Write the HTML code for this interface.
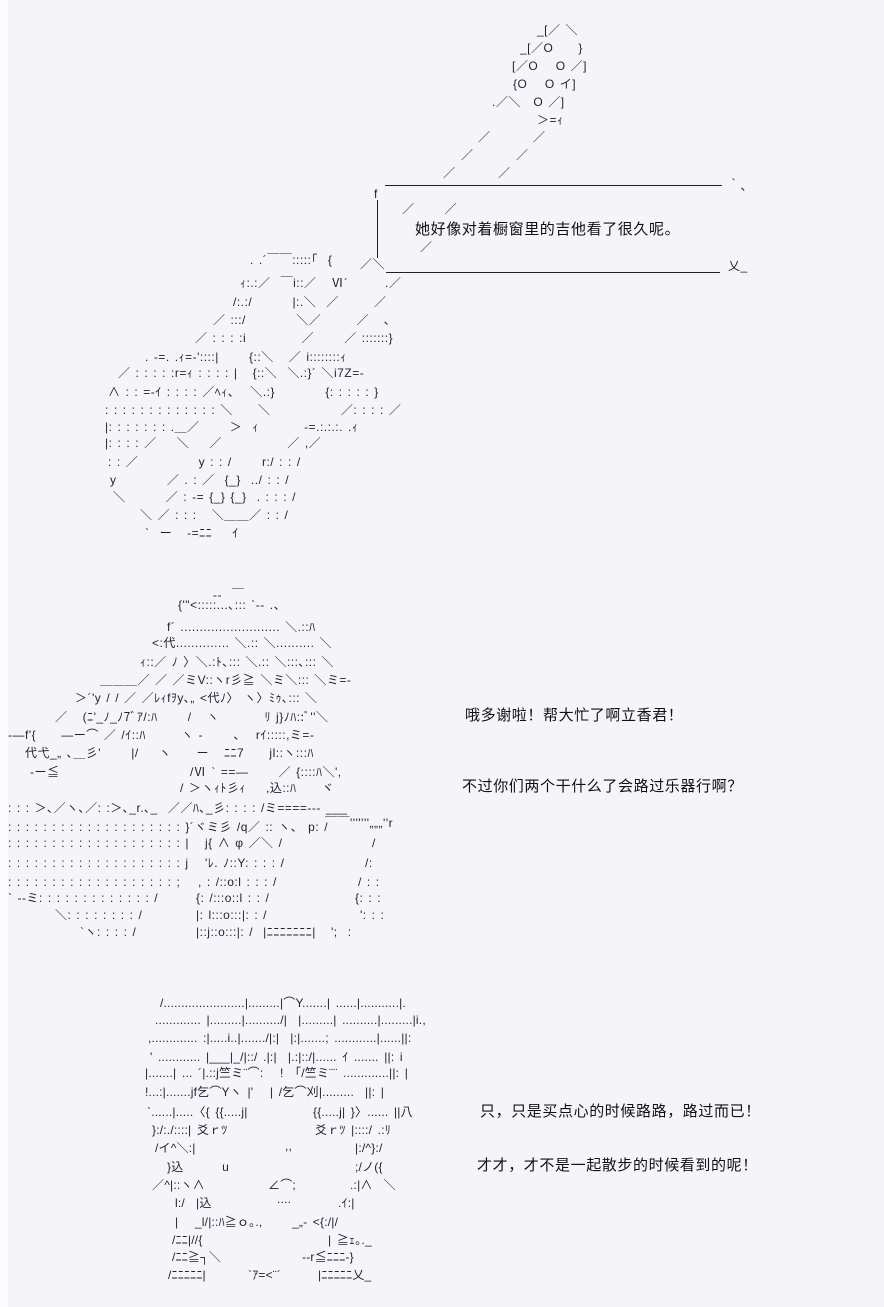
<!DOCTYPE html>
<html><head><meta charset="utf-8">
<style>
html,body{margin:0;padding:0}
body{width:884px;height:1307px;background:#f5f5f9;position:relative;overflow:hidden;color:#241c34}
.s{position:absolute;left:0;top:0;width:8px;height:1307px;background:#fbfbfc}
.a{position:absolute;white-space:pre;font:12px/18px "Liberation Sans","Noto Sans CJK JP",sans-serif;letter-spacing:0.5px;word-spacing:1.2px}
.c3 .a{letter-spacing:0.2px;word-spacing:2px}
.t{position:absolute;white-space:pre;font:15px/18px "Liberation Sans","Noto Sans CJK SC",sans-serif;letter-spacing:0.6px;color:#111}
.h{position:absolute;height:1px;background:#241c34}
.v{position:absolute;width:1px;background:#241c34}
</style></head><body>
<div class="s"></div>

<!-- guitar head -->
<div class="a" style="left:537px;top:21px">_[／ ＼</div>
<div class="a" style="left:520px;top:39px">_[／O　　}</div>
<div class="a" style="left:512px;top:57px">[／O　 O ／]</div>
<div class="a" style="left:513px;top:75px">{O　 O イ]</div>
<div class="a" style="left:492px;top:93px">.／＼　O ／]</div>
<div class="a" style="left:537px;top:111px">＞=ｨ</div>
<div class="a" style="left:478px;top:128px">／　　　 ／</div>
<div class="a" style="left:461px;top:146px">／　　　 ／</div>
<div class="a" style="left:443px;top:164px">／　　　 ／</div>

<!-- speech box -->
<div class="a" style="left:374px;top:178px">,</div>
<div class="h" style="left:385px;top:185px;width:337px"></div>
<div class="a" style="left:728px;top:177px">｀、</div>
<div class="a" style="left:374px;top:185px">f</div>
<div class="v" style="left:377px;top:200px;height:58px"></div>
<div class="a" style="left:402px;top:200px">／　　 ／</div>
<div class="t" style="left:415px;top:221px">她好像对着橱窗里的吉他看了很久呢。</div>
<div class="a" style="left:420px;top:238px">／</div>
<div class="a" style="left:360px;top:255px">／＼</div>
<div class="h" style="left:386px;top:272px;width:334px"></div>
<div class="a" style="left:728px;top:257px">乂_</div>

<!-- guitar body -->
<div class="a" style="left:250px;top:251px">. .´￣￣:::::｢  {</div>
<div class="a" style="left:240px;top:274px">ｨ:.:／  ￣i::／   Ⅵ´</div>
<div class="a" style="left:385px;top:274px">.／</div>
<div class="a" style="left:233px;top:293px">/:.:/        |:.＼  ／       ／</div>
<div class="a" style="left:213px;top:311px">／ :::/          ＼／       ／   ､</div>
<div class="a" style="left:195px;top:329px">／ : : : :i           ／      ／ :::::::}</div>
<div class="a" style="left:145px;top:348px">. -=. .ｨ=-'::::|      {::＼   ／ i::::::::ｨ</div>
<div class="a" style="left:118px;top:364px">／ : : : : :r=ｨ : : : : |   {::＼  ＼.:}´ ＼i7Z=-</div>
<div class="a" style="left:108px;top:383px">∧ : : =-ｲ : : : : ／ﾍｨ、  ＼.:}          {: : : : : }</div>
<div class="a" style="left:105px;top:401px">: : : : : : : : : : : : : ＼     ＼              ／: : : : ／</div>
<div class="a" style="left:105px;top:418px">|: : : : : : : .＿／      ＞  ｨ         -=.:.:.:. .ｨ</div>
<div class="a" style="left:105px;top:434px">|: : : : ／    ＼    ／             ／ ,／</div>
<div class="a" style="left:108px;top:453px">: : ／            y : : /      r:/ : : /</div>
<div class="a" style="left:110px;top:471px">y          ／ . : ／  {_}  ../ : : /</div>
<div class="a" style="left:113px;top:488px">＼        ／ : -= {_} {_}  . : : : /</div>
<div class="a" style="left:140px;top:506px">＼ ／ : : :   ＼＿＿／ : : /</div>
<div class="a" style="left:145px;top:524px">`  ー   -=ﾆﾆ    ｲ</div>

<!-- character 2 -->
<div class="a" style="left:213px;top:586px">‐‐  ￣</div>
<div class="a" style="left:178px;top:596px">{'"<:::::...､::: `‐- .、</div>
<div class="a" style="left:167px;top:618px">f´ .......................... ＼.::ﾊ</div>
<div class="a" style="left:152px;top:634px">&lt;:代.............. ＼.:: ＼.......... ＼</div>
<div class="a" style="left:140px;top:653px">ｨ::／ ﾉ 〉＼.:ﾄ､::: ＼.:: ＼:::､::: ＼</div>
<div class="a" style="left:100px;top:671px">＿＿＿／ ／ ／ミV::ヽr彡≧ ＼ミ＼::: ＼ミ=‐</div>
<div class="a" style="left:75px;top:689px">＞´'y / / ／ ／ﾚｨfｦy､„ &lt;代ﾉ〉 ヽ〉ﾐｩ､::: ＼</div>
<div class="a" style="left:55px;top:708px">／   (ﾆ'_ﾉ_ﾉ7ﾞｱ/:ﾊ      /   ヽ         ﾘ j}ﾉﾊ::ﾞ''＼</div>
<div class="a" style="left:8px;top:726px">‐―f'{     ―ー⌒ ／ /ｲ::ﾊ       ヽ ‐      、  rｲ:::::,ミ=‐</div>
<div class="a" style="left:25px;top:744px">代弋_„ ､＿彡'      |/    ヽ     ー   ﾆﾆ7     jl::ヽ:::ﾊ</div>
<div class="a" style="left:30px;top:763px">‐ー≦</div>
<div class="a" style="left:190px;top:763px">/Ⅵ ` ==―      ／ {::::ﾊ＼',</div>
<div class="a" style="left:180px;top:779px">/ ＞ヽｨﾄ彡ｨ    ,込::ﾊ     ヾ</div>
<div class="a" style="left:8px;top:799px">: : : ＞､／ヽ､／: :＞､_r.､_  ／／ﾊ､_彡: : : : /ミ====‐‐‐ ___</div>
<div class="a" style="left:8px;top:818px">: : : : : : : : : : : : : : : : : : : : }´ヾミ彡 /q／ :: ヽ、 p: /</div>
<div class="a" style="left:325px;top:814px">￣￣'''''''„„„''r</div>
<div class="a" style="left:8px;top:834px">: : : : : : : : : : : : : : : : : : : : |</div>
<div class="a" style="left:205px;top:834px">j{ ∧ φ ／＼ /</div>
<div class="a" style="left:372px;top:834px">/</div>
<div class="a" style="left:8px;top:854px">: : : : : : : : : : : : : : : : : : : : j</div>
<div class="a" style="left:205px;top:854px">'ﾚ. ﾉ::Y: : : : /</div>
<div class="a" style="left:365px;top:854px">/:</div>
<div class="a" style="left:8px;top:873px">: : : : : : : : : : : : : : : : : : : ;</div>
<div class="a" style="left:198px;top:873px">, : /::o:l : : : /</div>
<div class="a" style="left:358px;top:873px">/ : :</div>
<div class="a" style="left:8px;top:889px">` ‐‐ミ: : : : : : : : : : : : : /</div>
<div class="a" style="left:196px;top:889px">{: /:::o::l : : /</div>
<div class="a" style="left:355px;top:889px">{: : :</div>
<div class="a" style="left:55px;top:906px">＼: : : : : : : : /</div>
<div class="a" style="left:196px;top:906px">|: l:::o:::|: : /</div>
<div class="a" style="left:360px;top:906px">': : :</div>
<div class="a" style="left:80px;top:923px">`ヽ: : : : /</div>
<div class="a" style="left:196px;top:923px">|::j::o:::|: /  |ﾆﾆﾆﾆﾆﾆﾆ|   ';  :</div>

<div class="t" style="left:465px;top:707px">哦多谢啦！帮大忙了啊立香君！</div>
<div class="t" style="left:462px;top:778px">不过你们两个干什么了会路过乐器行啊？</div>

<!-- character 3 -->
<div class="c3">
<div class="a" style="left:160px;top:994px">/.......................|.........|⌒Y.......| ......|...........|.</div>
<div class="a" style="left:155px;top:1011px">............. |.........|........../|  |.........| ..........|.........|i.,</div>
<div class="a" style="left:148px;top:1029px">,............. :|.....i..|......./|:|  |:|.......; ............|......||:</div>
<div class="a" style="left:150px;top:1048px">' ............ |___|_/|::/ .|:|  |.:|::/|...... ｲ ....... ||: i</div>
<div class="a" style="left:145px;top:1064px">|.......| ... ´|.::j竺ミ¨⌒:   ! 「/竺ミ¨¨ .............||: |</div>
<div class="a" style="left:145px;top:1083px">!...:|.......jf乞⌒Yヽ |'   | /乞⌒刈|.........  ||: |</div>
<div class="a" style="left:147px;top:1103px">`......|.....〈{ {{.....j|</div>
<div class="a" style="left:313px;top:1103px">{{.....j| }〉...... ||八</div>
<div class="a" style="left:152px;top:1121px">}:/:./::::| 爻ｒﾂ</div>
<div class="a" style="left:315px;top:1121px">爻ｒﾂ |::::/ .:ﾘ</div>
<div class="a" style="left:155px;top:1139px">/イ^＼:|</div>
<div class="a" style="left:285px;top:1137px">,,</div>
<div class="a" style="left:355px;top:1139px">|:/^}:/</div>
<div class="a" style="left:167px;top:1158px">}込       u</div>
<div class="a" style="left:355px;top:1158px">;/ノ({</div>
<div class="a" style="left:152px;top:1176px">／^|::ヽ∧</div>
<div class="a" style="left:268px;top:1176px">∠⌒;</div>
<div class="a" style="left:350px;top:1176px">.:|∧  ＼</div>
<div class="a" style="left:175px;top:1194px">l:/  |込</div>
<div class="a" style="left:277px;top:1190px">....</div>
<div class="a" style="left:338px;top:1194px">.ｲ:|</div>
<div class="a" style="left:175px;top:1213px">|   _l/|::ﾊ≧ｏ｡.,</div>
<div class="a" style="left:292px;top:1213px">_„‐ &lt;{:/|/</div>
<div class="a" style="left:172px;top:1231px">/ﾆﾆ|//{</div>
<div class="a" style="left:328px;top:1231px">| ≧ｪ｡._</div>
<div class="a" style="left:172px;top:1248px">/ﾆﾆ≧┐＼</div>
<div class="a" style="left:302px;top:1248px">-‐r≦ﾆﾆﾆ-}</div>
<div class="a" style="left:168px;top:1266px">/ﾆﾆﾆﾆﾆ|</div>
<div class="a" style="left:248px;top:1266px">`ｱ=&lt;¨´</div>
<div class="a" style="left:318px;top:1266px">|ﾆﾆﾆﾆﾆ乂_</div>
</div>

<div class="t" style="left:480px;top:1103px">只，只是买点心的时候路路，路过而已！</div>
<div class="t" style="left:477px;top:1157px">才才，才不是一起散步的时候看到的呢！</div>
</body></html>
